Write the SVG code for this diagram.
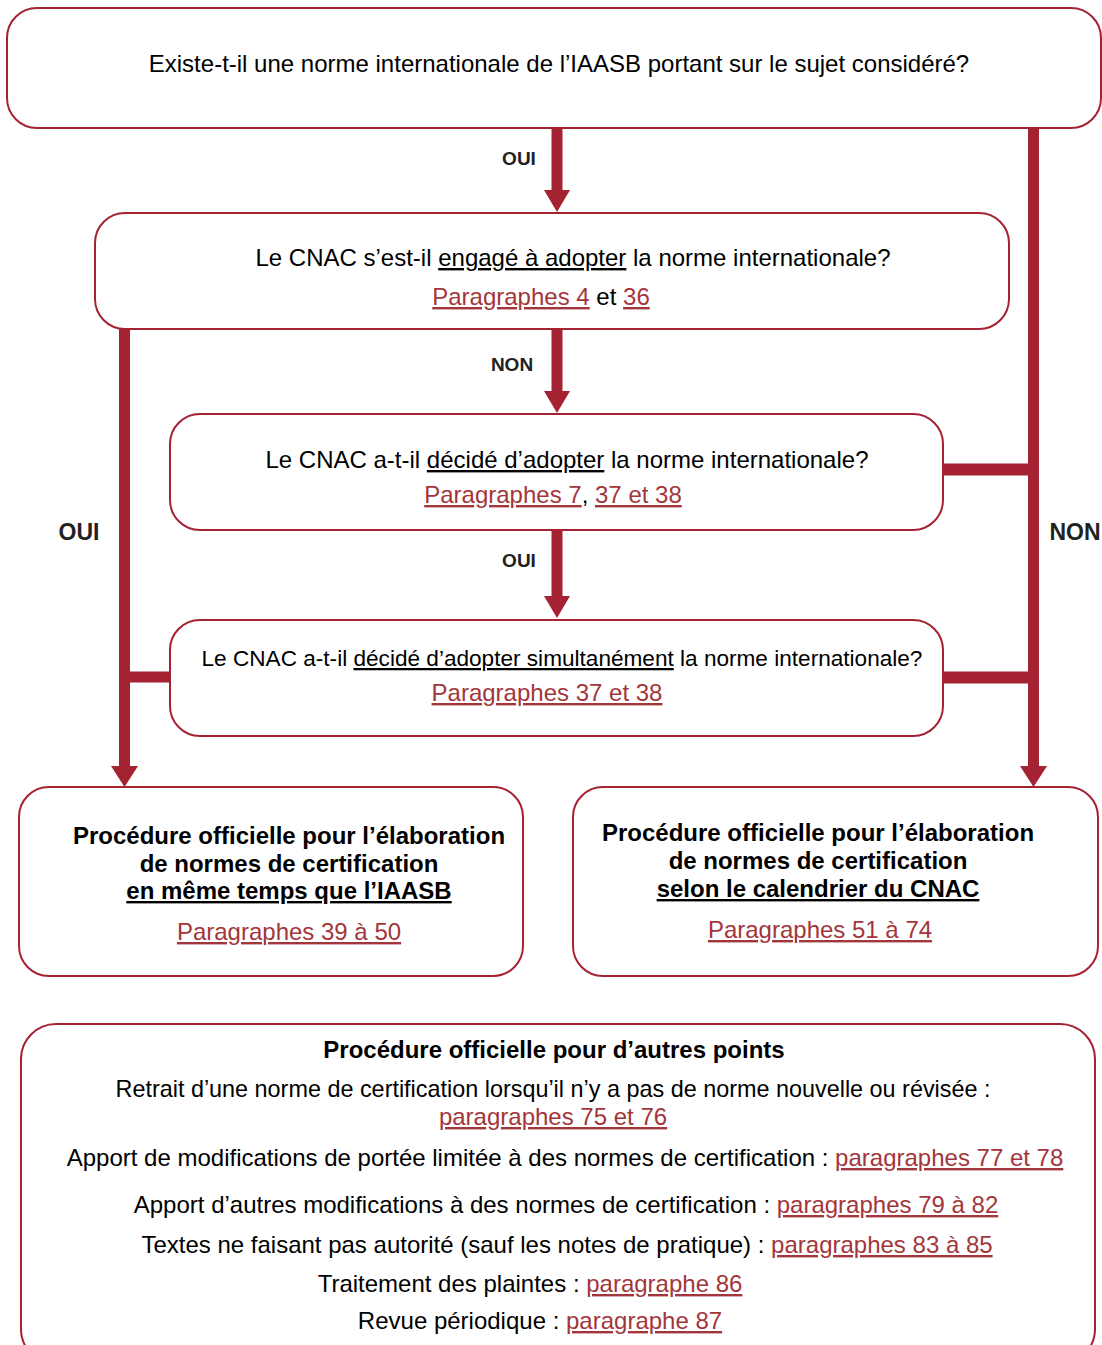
<svg xmlns="http://www.w3.org/2000/svg" width="1102" height="1345" viewBox="0 0 1102 1345">
<style>
.box{fill:#fff;stroke:#a52232;stroke-width:2}
.t{font-family:"Liberation Sans",Arial,sans-serif;font-size:24px;fill:#000;text-anchor:middle}
.b{font-weight:bold}
.lk{fill:#a3363a;text-decoration:underline;text-decoration-thickness:1.5px}
.u{text-decoration:underline;text-decoration-thickness:1.5px}
.lbl{font-family:"Liberation Sans",Arial,sans-serif;font-weight:bold;fill:#222;text-anchor:middle}
.ln{stroke:#a52232;stroke-width:11;fill:none}
.ar{fill:#a52232}
</style>
<g id="connectors">
<line class="ln" x1="557" y1="128" x2="557" y2="192"/>
<polygon class="ar" points="544,190 570,190 557,212"/>
<line class="ln" x1="557" y1="329" x2="557" y2="393"/>
<polygon class="ar" points="544,391 570,391 557,413"/>
<line class="ln" x1="557" y1="530" x2="557" y2="598"/>
<polygon class="ar" points="544,596 570,596 557,618"/>
<line class="ln" x1="124.5" y1="329" x2="124.5" y2="769"/>
<polygon class="ar" points="111,766 138,766 124.5,787"/>
<line class="ln" x1="119" y1="677" x2="171" y2="677"/>
<line class="ln" x1="1033.5" y1="128" x2="1033.5" y2="769"/>
<polygon class="ar" points="1020,766 1047,766 1033.5,787"/>
<line class="ln" x1="942" y1="469.5" x2="1039" y2="469.5" style="stroke-width:12"/>
<line class="ln" x1="942" y1="677.5" x2="1039" y2="677.5" style="stroke-width:12"/>
<text class="lbl" x="519" y="165" font-size="19">OUI</text>
<text class="lbl" x="512" y="371" font-size="19">NON</text>
<text class="lbl" x="519" y="567" font-size="19">OUI</text>
<text class="lbl" x="79" y="540" font-size="23">OUI</text>
<text class="lbl" x="1075" y="540" font-size="23">NON</text>
</g>
<g id="n1">
<rect class="box" x="7" y="8" width="1094" height="120" rx="30"/>
<text class="t" x="559" y="72">Existe-t-il une norme internationale de l’IAASB portant sur le sujet considéré?</text>
</g>
<g id="n2">
<rect class="box" x="95" y="213" width="914" height="116" rx="30"/>
<text class="t" x="573" y="266">Le CNAC s’est-il <tspan class="u">engagé à adopter</tspan> la norme internationale?</text>
<text class="t" x="541" y="305"><tspan class="lk">Paragraphes 4</tspan> et <tspan class="lk">36</tspan></text>
</g>
<g id="n3">
<rect class="box" x="170" y="414" width="773" height="116" rx="30"/>
<text class="t" x="567" y="468">Le CNAC a-t-il <tspan class="u">décidé d’adopter</tspan> la norme internationale?</text>
<text class="t" x="553" y="503"><tspan class="lk">Paragraphes 7</tspan>, <tspan class="lk">37 et 38</tspan></text>
</g>
<g id="n4">
<rect class="box" x="170" y="620" width="773" height="116" rx="30"/>
<text class="t" x="562" y="666" style="font-size:22.6px">Le CNAC a-t-il <tspan class="u">décidé d’adopter simultanément</tspan> la norme internationale?</text>
<text class="t" x="547" y="701"><tspan class="lk">Paragraphes 37 et 38</tspan></text>
</g>
<g id="n5">
<rect class="box" x="19" y="787" width="504" height="189" rx="30"/>
<text class="t b" x="289" y="844">Procédure officielle pour l’élaboration</text>
<text class="t b" x="289" y="872">de normes de certification</text>
<text class="t b u" x="289" y="899">en même temps que l’IAASB</text>
<text class="t" x="289" y="940"><tspan class="lk">Paragraphes 39 à 50</tspan></text>
</g>
<g id="n6">
<rect class="box" x="573" y="787" width="525" height="189" rx="30"/>
<text class="t b" x="818" y="841">Procédure officielle pour l’élaboration</text>
<text class="t b" x="818" y="869">de normes de certification</text>
<text class="t b u" x="818" y="897">selon le calendrier du CNAC</text>
<text class="t" x="820" y="938"><tspan class="lk">Paragraphes 51 à 74</tspan></text>
</g>
<g id="n7">
<rect class="box" x="21" y="1024" width="1074" height="340" rx="35"/>
<text class="t b" x="554" y="1058">Procédure officielle pour d’autres points</text>
<text class="t" x="553" y="1097" style="font-size:23.4px">Retrait d’une norme de certification lorsqu’il n’y a pas de norme nouvelle ou révisée :</text>
<text class="t" x="553" y="1125"><tspan class="lk">paragraphes 75 et 76</tspan></text>
<text class="t" x="565" y="1166">Apport de modifications de portée limitée à des normes de certification : <tspan class="lk">paragraphes 77 et 78</tspan></text>
<text class="t" x="566" y="1213">Apport d’autres modifications à des normes de certification : <tspan class="lk">paragraphes 79 à 82</tspan></text>
<text class="t" x="567" y="1253">Textes ne faisant pas autorité (sauf les notes de pratique) : <tspan class="lk">paragraphes 83 à 85</tspan></text>
<text class="t" x="530" y="1292">Traitement des plaintes : <tspan class="lk">paragraphe 86</tspan></text>
<text class="t" x="540" y="1329">Revue périodique : <tspan class="lk">paragraphe 87</tspan></text>
</g>
</svg>
